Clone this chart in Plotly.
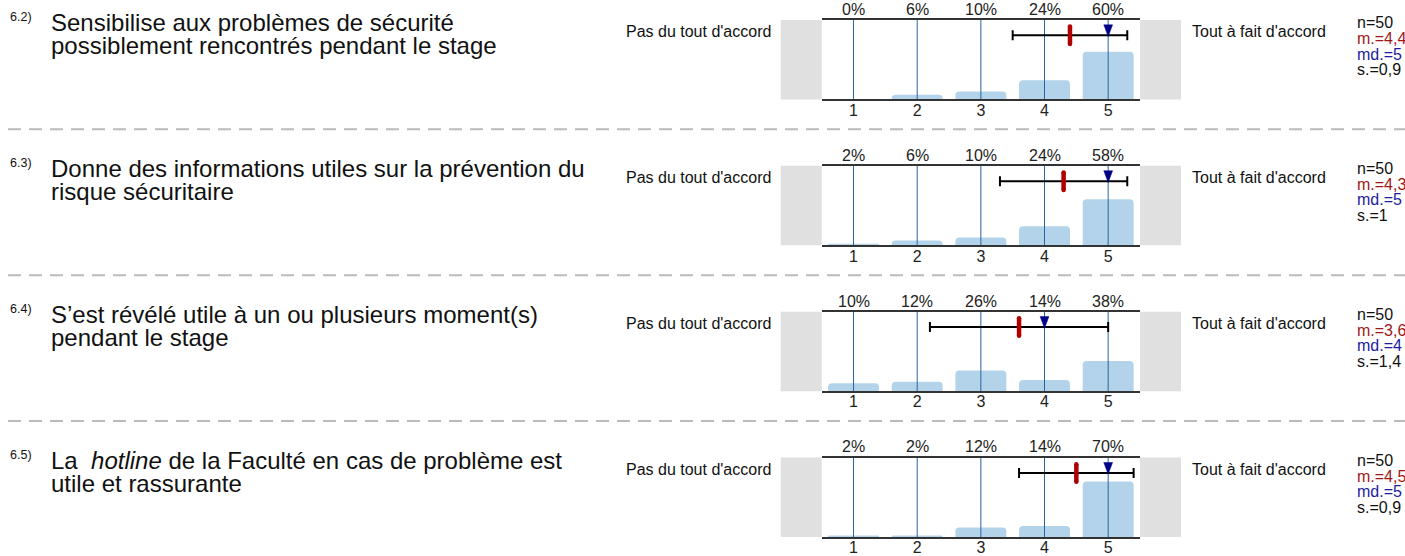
import plotly.graph_objects as go

# ---------------- data ----------------
categories = [1, 2, 3, 4, 5]
item_numbers = ["6.2)", "6.3)", "6.4)", "6.5)"]
titles_line1 = [
    "Sensibilise aux problèmes de sécurité",
    "Donne des informations utiles sur la prévention du",
    "S’est révélé utile à un ou plusieurs moment(s)",
    "La  <i>hotline</i> de la Faculté en cas de problème est",
]
titles_line2 = [
    "possiblement rencontrés pendant le stage",
    "risque sécuritaire",
    "pendant le stage",
    "utile et rassurante",
]
pct_q62 = [0, 6, 10, 24, 60]
pct_q63 = [2, 6, 10, 24, 58]
pct_q64 = [10, 12, 26, 14, 38]
pct_q65 = [2, 2, 12, 14, 70]
percentages = [pct_q62, pct_q63, pct_q64, pct_q65]
n_values = [50, 50, 50, 50]
means = [4.4, 4.3, 3.6, 4.5]
medians = [5, 5, 4, 5]
stdevs = [0.9, 1.0, 1.4, 0.9]
left_label = "Pas du tout d'accord"
right_label = "Tout à fait d'accord"

# ---------------- layout constants (pixels) ----------------
W, H = 1405, 556
FONT = "Liberation Sans, Arial, sans-serif"
TOP0, STEP, PH = 20.0, 146.67, 80.0
X0, X1 = 821.7, 1140.0
GREY_W = 41.0
XMIN, XMAX = 0.5, 5.5
YMAX = 100.0
ERR_Y = 80.6
BAR_COLOR = "#b3d3eb"
GRID_COLOR = "#2a64a0"
MEAN_COLOR = "#b00000"
MED_COLOR = "#000088"
M_TEXT = "#a01818"
MD_TEXT = "#1c1ca0"


def px(xp):
    return xp / W


def py(yp):
    return 1 - yp / H


fig = go.Figure()
shapes = []
annotations = []
unit_px = (X1 - X0) / (XMAX - XMIN)
ypx = PH / YMAX

for i in range(4):
    T = TOP0 + STEP * i
    xa = "x" if i == 0 else f"x{i+1}"
    ya = "y" if i == 0 else f"y{i+1}"
    xkey = "xaxis" if i == 0 else f"xaxis{i+1}"
    ykey = "yaxis" if i == 0 else f"yaxis{i+1}"
    pct = percentages[i]

    fig.add_trace(go.Bar(
        x=categories, y=pct, xaxis=xa, yaxis=ya, width=0.8,
        marker=dict(color=BAR_COLOR, line=dict(width=0), cornerradius=4),
        showlegend=False, hoverinfo="skip"))

    gx, gy = [], []
    for c in categories:
        gx += [c, c, None]
        gy += [0, YMAX, None]
    fig.add_trace(go.Scatter(
        x=gx, y=gy, xaxis=xa, yaxis=ya, mode="lines",
        line=dict(color=GRID_COLOR, width=1), showlegend=False, hoverinfo="skip"))

    m, md, s = means[i], medians[i], stdevs[i]
    fig.add_trace(go.Scatter(
        x=[m], y=[ERR_Y], xaxis=xa, yaxis=ya, mode="markers",
        marker=dict(size=1, color="rgba(0,0,0,0)"),
        error_x=dict(type="data", array=[s], symmetric=True, color="black",
                     thickness=2, width=5),
        showlegend=False, hoverinfo="skip"))

    half = 8.8 / ypx
    fig.add_trace(go.Scatter(
        x=[m, m], y=[ERR_Y - half, ERR_Y + half], xaxis=xa, yaxis=ya,
        mode="lines+markers", line=dict(color=MEAN_COLOR, width=4.5),
        marker=dict(size=4.5, color=MEAN_COLOR), showlegend=False, hoverinfo="skip"))

    hw = 4.4 / unit_px
    tri_top = YMAX - 5.0 / ypx
    tri_tip = YMAX - 16.7 / ypx
    fig.add_trace(go.Scatter(
        x=[md - hw, md + hw, md, md - hw], y=[tri_top, tri_top, tri_tip, tri_top],
        xaxis=xa, yaxis=ya, mode="lines", fill="toself", fillcolor=MED_COLOR,
        line=dict(color=MED_COLOR, width=0.5), showlegend=False, hoverinfo="skip"))

    fig.layout[xkey] = dict(
        domain=[px(X0), px(X1)], range=[XMIN, XMAX], anchor=ya,
        tickvals=categories, ticktext=[str(c) for c in categories],
        tickfont=dict(family=FONT, size=16, color="#222"), ticks="",
        ticklabelstandoff=-5,
        showgrid=False, zeroline=False, showline=True, mirror=True,
        linecolor="#333", linewidth=2, fixedrange=True)
    fig.layout[ykey] = dict(
        domain=[py(T + PH), py(T)], range=[0, YMAX], anchor=xa,
        showticklabels=False, showgrid=False, zeroline=False, showline=False,
        ticks="", fixedrange=True)

    # grey side boxes
    for a, b in [(X0 - GREY_W, X0), (X1, X1 + GREY_W)]:
        shapes.append(dict(type="rect", xref="paper", yref="paper",
                           x0=px(a), x1=px(b), y0=py(T + PH), y1=py(T),
                           fillcolor="#e0e0e0", line=dict(width=0), layer="below"))

    # percent labels
    for c, p in zip(categories, pct):
        annotations.append(dict(x=c, xref=xa, y=py(T - 10.7), yref="paper",
                                text=f"{p}%", showarrow=False, xanchor="center",
                                yanchor="middle",
                                font=dict(family=FONT, size=16, color="#222")))

    # question text
    annotations.append(dict(x=px(8), y=py(T - 3), xref="paper", yref="paper",
                            text=item_numbers[i], showarrow=False, xanchor="left",
                            yanchor="middle", font=dict(family=FONT, size=12.5, color="#111")))
    annotations.append(dict(x=px(49), y=py(T + 3), xref="paper", yref="paper",
                            text=titles_line1[i], showarrow=False, xanchor="left",
                            yanchor="middle", font=dict(family=FONT, size=24, color="#111")))
    annotations.append(dict(x=px(49), y=py(T + 26), xref="paper", yref="paper",
                            text=titles_line2[i], showarrow=False, xanchor="left",
                            yanchor="middle", font=dict(family=FONT, size=24, color="#111")))

    # pole labels
    annotations.append(dict(x=px(773), y=py(T + 11.6), xref="paper", yref="paper",
                            text=left_label, showarrow=False, xanchor="right",
                            yanchor="middle", font=dict(family=FONT, size=16, color="#111")))
    annotations.append(dict(x=px(1190), y=py(T + 11.6), xref="paper", yref="paper",
                            text=right_label, showarrow=False, xanchor="left",
                            yanchor="middle", font=dict(family=FONT, size=16, color="#111")))

    # stats
    stats = [
        (f"n={n_values[i]}", "#111"),
        (f"m.={str(m).replace('.', ',')}", M_TEXT),
        (f"md.={md}", MD_TEXT),
        (f"s.={('%g' % s).replace('.', ',')}", "#111"),
    ]
    for k, (txt, col) in enumerate(stats):
        annotations.append(dict(x=px(1355), y=py(T + 3 + 15.7 * k), xref="paper",
                                yref="paper", text=txt, showarrow=False,
                                xanchor="left", yanchor="middle",
                                font=dict(family=FONT, size=16, color=col)))

    # dashed separator
    if i < 3:
        shapes.append(dict(type="line", xref="paper", yref="paper",
                           x0=px(8), x1=1, y0=py(T + 110), y1=py(T + 110),
                           line=dict(color="#bbbbbb", width=2, dash="13px,8px")))

fig.update_layout(
    width=W, height=H, margin=dict(l=0, r=0, t=0, b=0),
    paper_bgcolor="white", plot_bgcolor="white",
    shapes=shapes, annotations=annotations, bargap=0.2,
    font=dict(family=FONT), showlegend=False)

fig.write_html("out.html", config={"displayModeBar": False},
               post_script="document.body.style.margin='0px';"
                           "document.body.style.overflow='hidden';")
